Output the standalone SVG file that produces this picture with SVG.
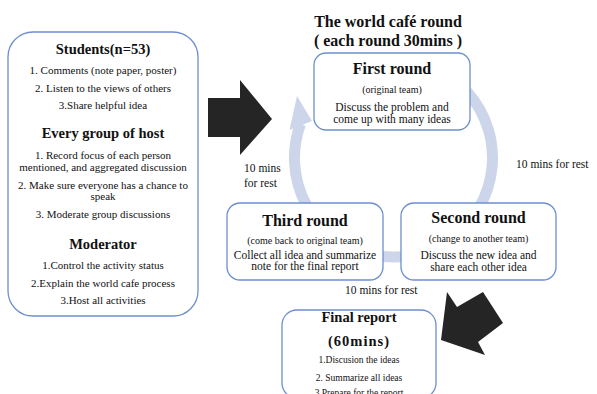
<svg xmlns="http://www.w3.org/2000/svg" width="597" height="394" viewBox="0 0 597 394">
<style>
text{font-family:"Liberation Serif","Times New Roman",serif;fill:#111;text-anchor:middle}
.box{fill:#fff;stroke:#6d8fcf;stroke-width:1.3}
.h{font-weight:bold;font-size:16px}
.hs{font-weight:bold;font-size:14.5px}
.it{font-size:11px}
.sm{font-size:10px}
.d{font-size:11.5px}
.fi{font-size:9.5px}
.rest{font-size:11.5px;text-anchor:start}
.big{fill:#252525}
.ring{fill:none;stroke:#cdd5eb;stroke-width:11}
</style>
<g id="connectors">
  <path class="ring" d="M 300.5,124 A 99 99 0 1 0 393,59"/>
  <polygon points="289.5,130 297,96 312,121" fill="#cdd5eb"/>
  <polygon class="big" points="208,98 240,98 240,80 272,119 240,155 240,137 208,137"/>
  <polygon class="big" points="441,340 447,292 457,307 483,292 503,323 478,342 485,355"/>
</g>
<g id="roles">
  <rect class="box" x="8" y="32" width="190" height="284" rx="25"/>
  <text class="hs" x="103" y="54">Students(n=53)</text>
  <text class="it" x="103" y="74">1. Comments (note paper, poster)</text>
  <text class="it" x="103" y="91.5">2. Listen to the views of others</text>
  <text class="it" x="103" y="109">3.Share helpful idea</text>
  <text class="hs" x="103" y="138">Every group of host</text>
  <text class="it" x="103" y="159">1. Record focus of each person</text>
  <text class="it" x="103" y="170.5">mentioned, and aggregated discussion</text>
  <text class="it" x="103" y="188.5">2. Make sure everyone has a chance to</text>
  <text class="it" x="103" y="200">speak</text>
  <text class="it" x="103" y="218">3. Moderate group discussions</text>
  <text class="hs" x="103" y="249">Moderator</text>
  <text class="it" x="103" y="269">1.Control the activity status</text>
  <text class="it" x="103" y="286.5">2.Explain the world cafe process</text>
  <text class="it" x="103" y="304">3.Host all activities</text>
</g>
<g id="title">
  <text class="h" x="388" y="26.5">The world café round</text>
  <text class="h" x="388" y="46">( each round 30mins )</text>
</g>
<g id="first-round">
  <rect class="box" x="314" y="53" width="156" height="77" rx="12"/>
  <text class="h" x="392" y="74">First round</text>
  <text class="sm" x="392" y="92.5">(original team)</text>
  <text class="d" x="392" y="110.5">Discuss the problem and</text>
  <text class="d" x="392" y="122.5">come up with many ideas</text>
</g>
<g id="second-round">
  <rect class="box" x="401" y="203" width="155" height="77" rx="13"/>
  <text class="h" x="478.5" y="223">Second round</text>
  <text class="sm" x="478.5" y="242">(change to another team)</text>
  <text class="d" x="478.5" y="259">Discuss the new idea and</text>
  <text class="d" x="478.5" y="271">share each other idea</text>
</g>
<g id="third-round">
  <rect class="box" x="227" y="203" width="156" height="77" rx="13"/>
  <text class="h" x="305" y="225.5">Third round</text>
  <text class="sm" x="305" y="244">(come back to original team)</text>
  <text class="d" x="305" y="259">Collect all idea and summarize</text>
  <text class="d" x="305" y="270">note for the final report</text>
</g>
<g id="final-report">
  <rect class="box" x="282" y="310" width="154" height="88" rx="15"/>
  <text class="hs" x="359" y="322">Final report</text>
  <text class="hs" x="359" y="345.5" style="letter-spacing:1px">(60mins)</text>
  <text class="fi" x="359" y="363">1.Discusion the ideas</text>
  <text class="fi" x="359" y="380.5">2. Summarize all ideas</text>
  <text class="fi" x="359" y="395.5">3.Prepare for the report</text>
</g>
<g id="rest-labels">
  <text class="rest" x="516" y="167.5">10 mins for rest</text>
  <text class="rest" x="244" y="171.5">10 mins</text>
  <text class="rest" x="244" y="186.5">for rest</text>
  <text class="rest" x="345" y="294">10 mins for rest</text>
</g>
</svg>
